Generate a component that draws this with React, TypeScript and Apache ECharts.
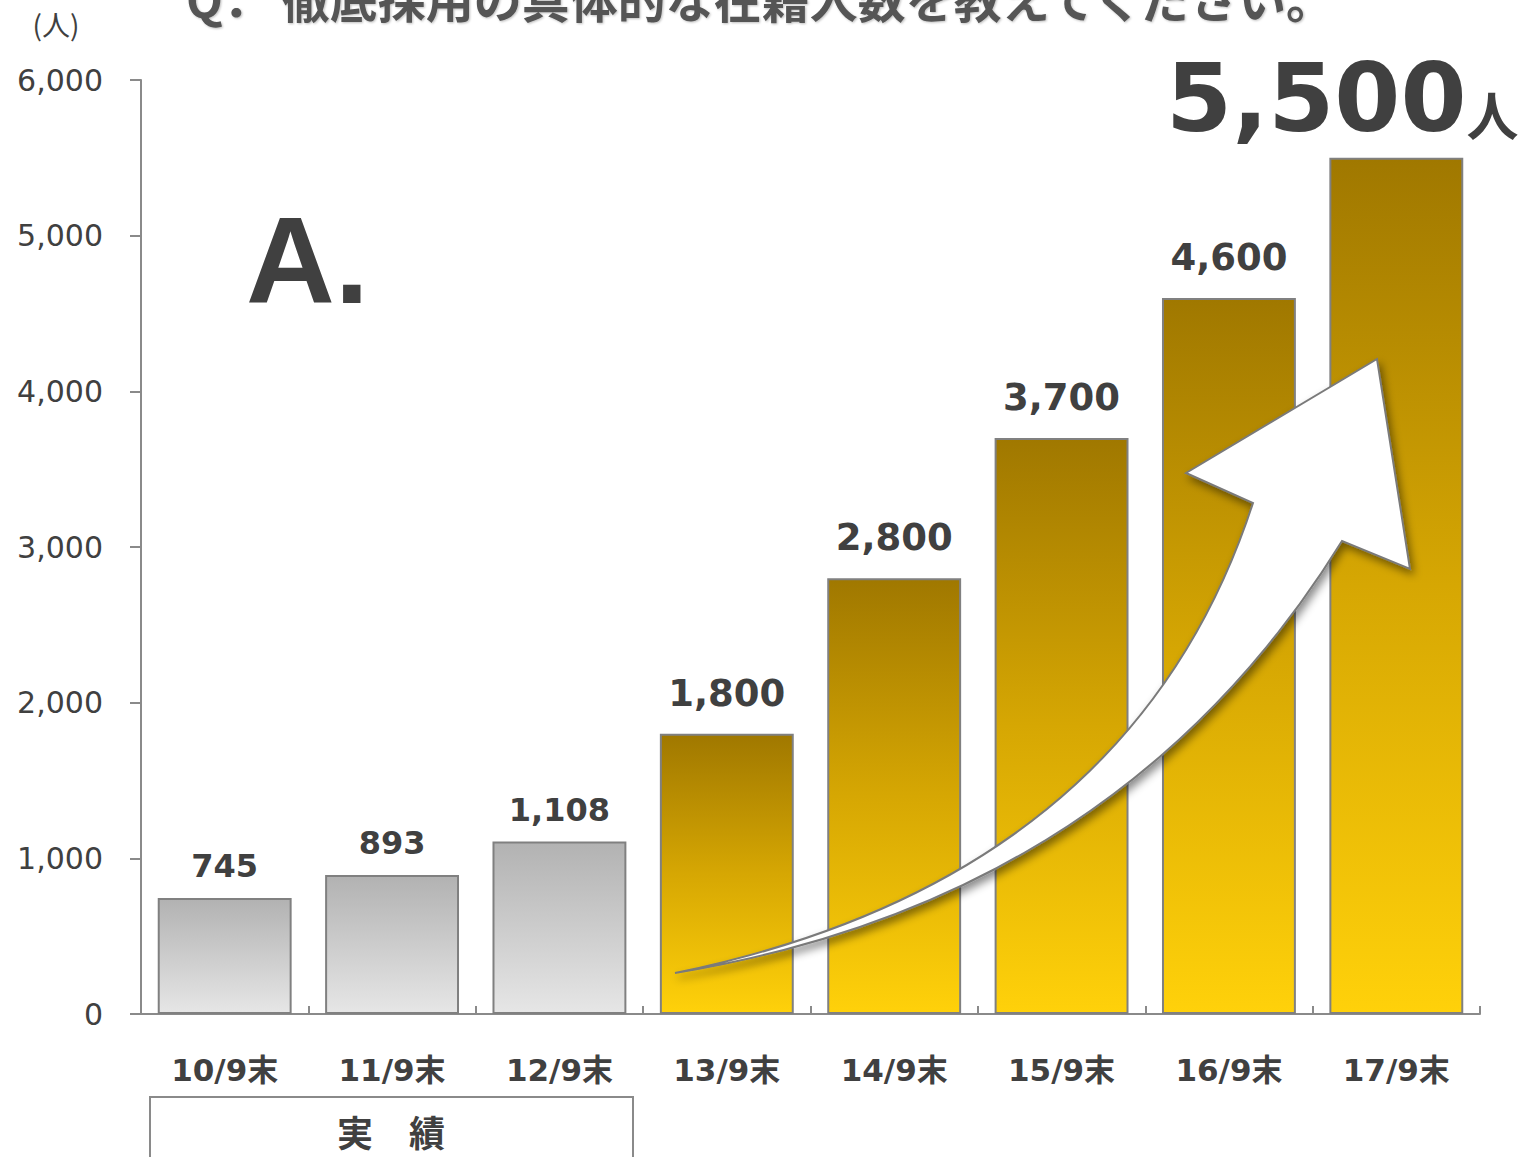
import React, { useEffect, useRef } from 'react';
import * as echarts from 'echarts';

const categories = ['10/9末', '11/9末', '12/9末', '13/9末', '14/9末', '15/9末', '16/9末', '17/9末'];
const values = [745, 893, 1108, 1800, 2800, 3700, 4600, 5500];
const actualCount = 3;
const yMin = 0;
const yMax = 6000;
const yInterval = 1000;
const titleText = 'Q． 徹底採用の具体的な在籍人数を教えてください。';
const unitText = '(人)';
const answerText = 'A.';
const actualLabel = '実　績';
const highlightUnit = '人';

const ARROW_D =
  'M675,973 Q1130,880 1253,503 L1186,473 L1377,359 L1410,569 L1342,541 Q1120,900 675,973 Z';

let registered = false;
function ensureShape() {
  if (registered) return;
  echarts.graphic.registerShape('riseArrow', echarts.graphic.extendPath(ARROW_D, {}) as any);
  registered = true;
}

const fmt = (v: number) => v.toLocaleString('en-US');
const TEXT = '#404040';
const AXIS = '#8a8a8a';

export default function App() {
  const ref = useRef<HTMLDivElement>(null);
  useEffect(() => {
    if (!ref.current) return;
    ensureShape();
    const chart = echarts.init(ref.current, undefined, { renderer: 'svg' });

    const grayGrad = () =>
      new echarts.graphic.LinearGradient(0, 0, 0, 1, [
        { offset: 0, color: '#b2b2b2' },
        { offset: 1, color: '#e6e6e6' },
      ]);
    const goldGrad = () =>
      new echarts.graphic.LinearGradient(0, 0, 0, 1, [
        { offset: 0, color: '#a07800' },
        { offset: 0.5, color: '#d6a703' },
        { offset: 1, color: '#ffd10a' },
      ]);

    const data = values.map((v, i) => {
      const isActual = i < actualCount;
      const isLast = i === values.length - 1;
      return {
        value: v,
        itemStyle: { color: isActual ? grayGrad() : goldGrad() },
        label: isLast
          ? {
              formatter: `{big|${fmt(v)}}{unit|${highlightUnit}}`,
              offset: [-54, 0],
              distance: 12,
              rich: {
                big: {
                  fontSize: 95,
                  fontWeight: 'bold',
                  fontFamily: 'DejaVu Sans',
                  color: TEXT,
                  verticalAlign: 'bottom',
                },
                unit: {
                  fontSize: 52,
                  fontWeight: 'bold',
                  fontFamily: 'Noto Sans CJK JP',
                  color: TEXT,
                  verticalAlign: 'bottom',
                  padding: [0, 0, 6, 0],
                },
              },
            }
          : {
              fontSize: isActual ? 32 : 37,
              distance: isActual ? 16 : 22,
            },
      };
    });

    chart.setOption({
      animation: false,
      backgroundColor: '#ffffff',
      grid: { left: 141, right: 56, top: 80, bottom: 143, containLabel: false },
      xAxis: {
        type: 'category',
        data: categories,
        axisLine: { lineStyle: { color: AXIS, width: 2 } },
        axisTick: { show: true, inside: true, length: 8, lineStyle: { color: AXIS, width: 2 } },
        axisLabel: {
          margin: 40,
          fontSize: 31,
          fontWeight: 'bold',
          fontFamily: 'DejaVu Sans, Noto Sans CJK JP',
          color: TEXT,
        },
      },
      yAxis: {
        type: 'value',
        min: yMin,
        max: yMax,
        interval: yInterval,
        splitLine: { show: false },
        axisLine: { show: true, lineStyle: { color: AXIS, width: 2 } },
        axisTick: { show: true, length: 11, lineStyle: { color: AXIS, width: 2 } },
        axisLabel: {
          margin: 38,
          fontSize: 30,
          fontFamily: 'DejaVu Sans',
          color: TEXT,
          formatter: (v: number) => fmt(v),
        },
      },
      series: [
        {
          type: 'bar',
          data,
          barCategoryGap: '20%',
          itemStyle: { borderColor: '#808080', borderWidth: 2 },
          label: {
            show: true,
            position: 'top',
            fontWeight: 'bold',
            fontFamily: 'DejaVu Sans',
            color: TEXT,
            formatter: (p: any) => fmt(p.value),
          },
        },
      ],
      graphic: [
        {
          type: 'text',
          left: 186,
          top: -27,
          style: {
            text: titleText,
            fontSize: 48,
            fontWeight: 'bold',
            fontFamily: 'Noto Sans CJK JP',
            fill: '#555555',
            textShadowColor: 'rgba(0,0,0,0.25)',
            textShadowBlur: 2,
            textShadowOffsetX: 1,
            textShadowOffsetY: 1,
          },
        },
        {
          type: 'text',
          x: 56,
          y: 24,
          style: {
            text: unitText,
            fontSize: 28,
            fontFamily: 'Noto Sans CJK JP',
            fill: TEXT,
            align: 'center',
            verticalAlign: 'middle',
          },
        },
        {
          type: 'text',
          x: 246,
          y: 260,
          style: {
            text: answerText,
            fontSize: 123,
            fontWeight: 'bold',
            fontFamily: 'Liberation Sans',
            fill: TEXT,
            align: 'left',
            verticalAlign: 'middle',
          },
        },
        {
          type: 'rect',
          shape: { x: 150, y: 1097, width: 483, height: 100 },
          style: { fill: 'none', stroke: AXIS, lineWidth: 2 },
        },
        {
          type: 'text',
          x: 391,
          y: 1131,
          style: {
            text: actualLabel,
            fontSize: 36,
            fontWeight: 'bold',
            fontFamily: 'Noto Sans CJK JP',
            fill: TEXT,
            align: 'center',
            verticalAlign: 'middle',
          },
        },
        {
          type: 'riseArrow',
          x: 0,
          y: 0,
          z: 100,
          style: {
            fill: '#ffffff',
            stroke: '#7a7a7a',
            lineWidth: 2,
            shadowBlur: 8,
            shadowColor: 'rgba(0,0,0,0.45)',
            shadowOffsetX: 3,
            shadowOffsetY: 5,
          },
        },
      ],
    });
    return () => chart.dispose();
  }, []);

  return (
    <div
      ref={ref}
      style={{ position: 'absolute', left: 0, top: 0, width: 1536, height: 1157 }}
    />
  );
}
